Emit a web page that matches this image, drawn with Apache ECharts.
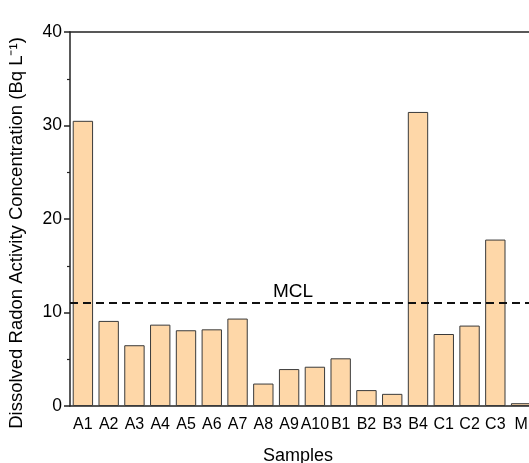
<!DOCTYPE html>
<html>
<head>
<meta charset="utf-8">
<script src="https://cdn.jsdelivr.net/npm/echarts@6/dist/echarts.min.js"></script>
<style>
html,body{margin:0;padding:0;background:#fff;overflow:hidden;width:529px;height:463px;}
#c{width:534px;height:463px;}
</style>
</head>
<body>
<div id="c"></div>
<script>
const categories = ['A1','A2','A3','A4','A5','A6','A7','A8','A9','A10','B1','B2','B3','B4','C1','C2','C3','M'];
const radon = [30.5, 9.1, 6.5, 8.7, 8.1, 8.2, 9.35, 2.4, 3.95, 4.2, 5.1, 1.7, 1.3, 31.45, 7.7, 8.6, 17.8, 0.3];
const mclValue = 11;
const mclLabel = 'MCL';
const yTicks = {min: 0, max: 40, interval: 10};

const font = 'Liberation Sans, Arial, sans-serif';
const axisColor = '#222';
const chart = echarts.init(document.getElementById('c'));
chart.setOption({
  animation: false,
  backgroundColor: '#fff',
  grid: {left: 70, right: 0, top: 32, bottom: 57, containLabel: false, outerBoundsMode: 'none'},
  xAxis: [
    {
      type: 'category', data: categories, position: 'bottom',
      name: 'Samples', nameLocation: 'middle', nameGap: 41,
      nameTextStyle: {fontFamily: font, fontSize: 18, color: '#000', padding: [0, 8, 0, 0]},
      axisLine: {lineStyle: {color: axisColor, width: 1.5}},
      axisTick: {alignWithLabel: true, length: 6, lineStyle: {color: axisColor, width: 1.5}},
      axisLabel: {fontFamily: font, fontSize: 16, color: '#000', margin: 11, interval: 0}
    },
    {
      type: 'category', data: categories, position: 'bottom',
      axisLine: {show: false},
      axisTick: {alignWithLabel: false, length: 3, lineStyle: {color: axisColor, width: 1.2}},
      axisLabel: {show: false}
    },
    {
      type: 'category', data: categories, position: 'top',
      axisLine: {lineStyle: {color: axisColor, width: 1.5}},
      axisTick: {show: false}, axisLabel: {show: false}
    }
  ],
  yAxis: {
    type: 'value', min: yTicks.min, max: yTicks.max, interval: yTicks.interval,
    name: 'Dissolved Radon Activity Concentration (Bq L\u207B\u00B9)',
    nameLocation: 'middle', nameGap: 44,
    nameTextStyle: {fontFamily: font, fontSize: 18.5, color: '#000', padding: [0, 28, 0, 0]},
    axisLine: {show: true, lineStyle: {color: axisColor, width: 1.5}},
    axisTick: {show: true, length: 6, lineStyle: {color: axisColor, width: 1.5}},
    minorTick: {show: true, splitNumber: 2, length: 3, lineStyle: {color: axisColor, width: 1.2}},
    splitLine: {show: false},
    axisLabel: {fontFamily: font, fontSize: 17.5, color: '#000', margin: 8}
  },
  series: [{
    type: 'bar', data: radon, xAxisIndex: 0,
    barCategoryGap: '21%',
    itemStyle: {color: '#FED7A8', borderColor: '#3a3a3a', borderWidth: 1},
    markLine: {
      symbol: 'none', silent: true,
      lineStyle: {type: [8, 5], color: '#111', width: 2},
      label: {show: true, formatter: mclLabel, position: 'insideMiddleTop', distance: 2,
              padding: [0, 18, 0, 0],
              fontFamily: font, fontSize: 19, color: '#000'},
      data: [{yAxis: mclValue}]
    }
  }]
});
</script>
</body>
</html>
